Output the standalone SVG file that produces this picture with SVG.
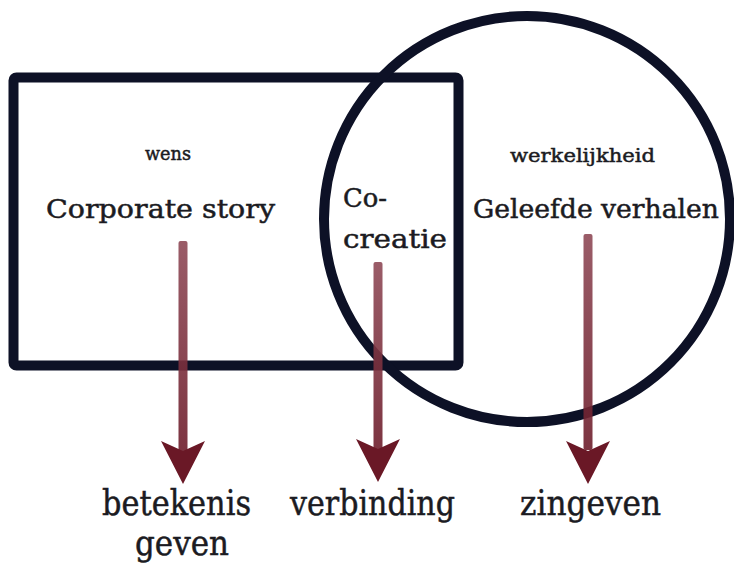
<svg xmlns="http://www.w3.org/2000/svg" width="734" height="566" viewBox="0 0 734 566">
<style>
.shape{fill:none;stroke:#0d1126;stroke-width:10}
.t{font-family:"DejaVu Serif","Liberation Serif",serif;fill:#1b1b22;stroke:#1b1b22;stroke-width:0.5}
.s{font-size:19px}
.m{font-size:26px}
.b{font-size:36px}
.shaft{fill:url(#sg);opacity:0.9}
.head{fill:#6a1826}
</style>
<defs>
<linearGradient id="sg" x1="0" y1="0" x2="0" y2="1">
<stop offset="0" stop-color="#8f4a57"/>
<stop offset="1" stop-color="#6e1e2c"/>
</linearGradient>
</defs>
<rect width="734" height="566" fill="#ffffff"/>
<g id="wens-box">
<rect class="shape" x="13.5" y="77.5" width="445" height="288" rx="3"/>
<text class="t s" x="168" y="160" text-anchor="middle" textLength="46" lengthAdjust="spacingAndGlyphs">wens</text>
<text class="t m" x="46" y="218" textLength="229" lengthAdjust="spacingAndGlyphs">Corporate story</text>
</g>
<g id="werkelijkheid-circle">
<circle class="shape" cx="527" cy="219" r="203"/>
<text class="t s" x="510" y="162" textLength="145" lengthAdjust="spacingAndGlyphs">werkelijkheid</text>
<text class="t m" x="473" y="218" textLength="246" lengthAdjust="spacingAndGlyphs">Geleefde verhalen</text>
</g>
<g id="cocreatie">
<text class="t m" x="343" y="207" textLength="44" lengthAdjust="spacingAndGlyphs">Co-</text>
<text class="t m" x="343" y="248" textLength="104" lengthAdjust="spacingAndGlyphs">creatie</text>
</g>
<g id="connectors">
<rect class="shaft" x="178.5" y="241" width="9" height="210" rx="2"/>
<polygon class="head" points="161,441 183,451 205,441 183,484"/>
<rect class="shaft" x="373.5" y="262" width="9" height="188" rx="2"/>
<polygon class="head" points="356,439 378,449 400,439 378,482"/>
<rect class="shaft" x="583.5" y="234" width="9" height="216" rx="2"/>
<polygon class="head" points="566,441 588,451 610,441 588,484"/>
</g>
<g id="betekenis-geven">
<text class="t b" x="102" y="515" textLength="149" lengthAdjust="spacingAndGlyphs">betekenis</text>
<text class="t b" x="135" y="555" textLength="94" lengthAdjust="spacingAndGlyphs">geven</text>
</g>
<g id="verbinding">
<text class="t b" x="290" y="515" textLength="165" lengthAdjust="spacingAndGlyphs">verbinding</text>
</g>
<g id="zingeven">
<text class="t b" x="520" y="515" textLength="141" lengthAdjust="spacingAndGlyphs">zingeven</text>
</g>
</svg>
